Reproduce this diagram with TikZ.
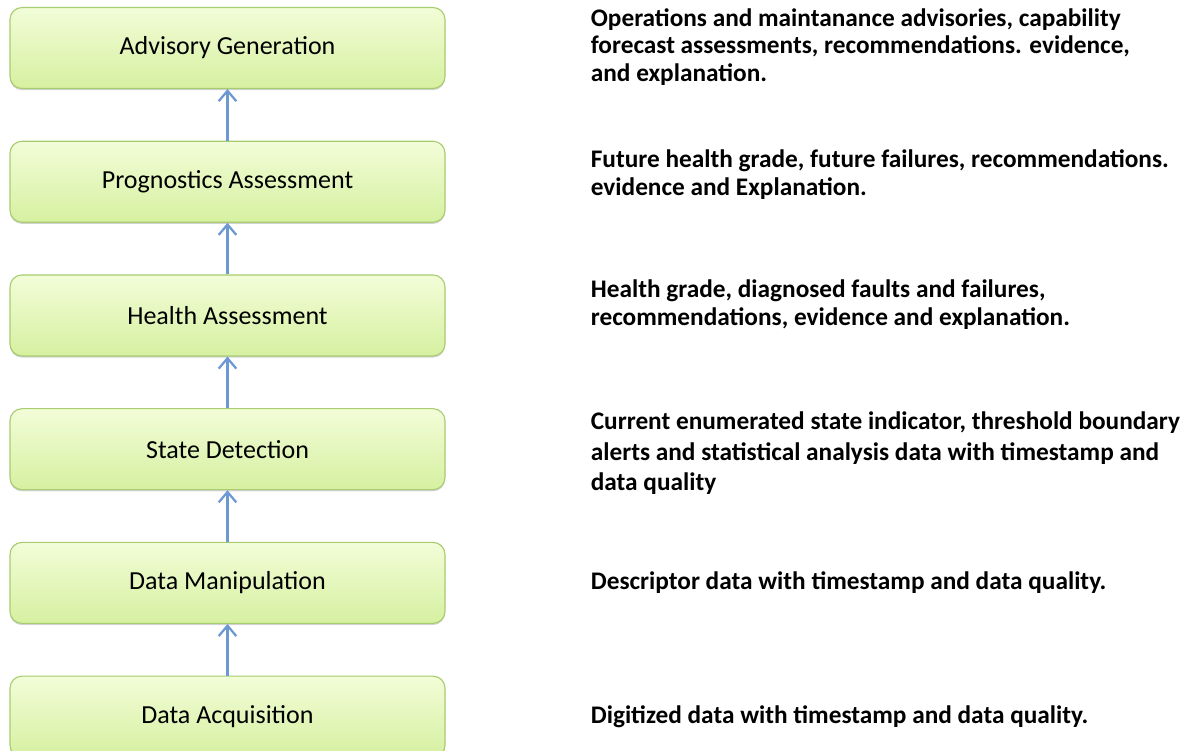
\documentclass[tikz,border=0pt]{standalone}
\usepackage{fontspec}
\setmainfont{Carlito}
\usepackage{tikz}
\usetikzlibrary{positioning,shadows,arrows.meta}

\definecolor{boxtop}{RGB}{242,253,216}
\definecolor{boxbot}{RGB}{214,240,160}
\definecolor{boxline}{RGB}{168,204,112}
\definecolor{arrowblue}{RGB}{108,152,212}

\tikzset{
  stage/.style={draw=boxline, line width=0.8pt, rounded corners=0.3cm,
    top color=boxtop, bottom color=boxbot,
    minimum width=10.875cm, minimum height=2.025cm,
    font=\fontsize{18.5}{22}\selectfont,
    drop shadow={shadow xshift=0pt, shadow yshift=-1.2pt, opacity=0.35}},
  outtext/.style={align=left, inner sep=0pt, font=\fontsize{18}{19.5}\selectfont\bfseries},
  flow/.style={-{Straight Barb[length=2.6mm,width=4.4mm,line width=1.6pt]}, draw=arrowblue, line width=2.2pt}
}

\begin{document}
\begin{tikzpicture}
\useasboundingbox (0,0) rectangle (29.975,-18.775);
% Etapas
\node[stage] (adv) at (5.6875,-1.2) {Advisory Generation};
\node[stage, below=1.29cm of adv] (prog) {Prognostics Assessment};
\node[stage, below=1.29cm of prog] (health) {Health Assessment};
\node[stage, below=1.29cm of health] (state) {State Detection};
\node[stage, below=1.29cm of state] (manip) {Data Manipulation};
\node[stage, below=1.29cm of manip] (acq) {Data Acquisition};
% Flechas
\draw[flow] (acq) -- (manip);
\draw[flow] (manip) -- (state);
\draw[flow] (state) -- (health);
\draw[flow] (health) -- (prog);
\draw[flow] (prog) -- (adv);
% Salidas
\node[outtext, right=3.625cm of adv, yshift=0.03cm] (advout) {Operations and maintanance advisories, capability\\forecast assessments, recommendations. evidence,\\and explanation.};
\node[outtext, right=3.625cm of prog, yshift=0.175cm] (progout) {Future health grade, future failures, recommendations.\\evidence and Explanation.};
\node[outtext, right=3.625cm of health, yshift=0.275cm] (healthout) {Health grade, diagnosed faults and failures,\\recommendations, evidence and explanation.};
\node[outtext, right=3.625cm of state, yshift=-0.1cm, font=\fontsize{18}{21.5}\selectfont\bfseries] (stateout) {Current enumerated state indicator, threshold boundary\\alerts  and statistical analysis data with timestamp and\\data quality};
\node[outtext, right=3.625cm of manip] (manipout) {Descriptor data with timestamp and data quality.};
\node[outtext, right=3.625cm of acq] (acqout) {Digitized data with timestamp and data quality.};
\end{tikzpicture}
\end{document}
